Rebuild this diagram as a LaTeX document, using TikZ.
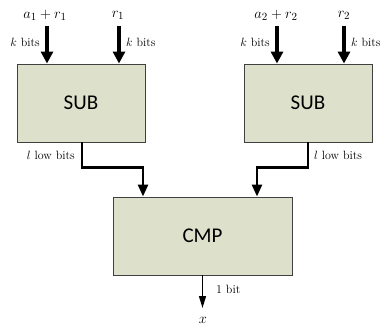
\documentclass[tikz,border=0pt]{standalone}
\usepackage{fontspec}
\newfontfamily\boxfont{Carlito}
\usetikzlibrary{arrows.meta}
\definecolor{boxfill}{RGB}{221,225,204}
\definecolor{boxline}{RGB}{64,64,64}
\tikzset{
  blk/.style={draw=boxline, line width=0.9pt, fill=boxfill, minimum height=78pt,
    font=\boxfont\fontsize{21}{24}\selectfont, inner sep=0pt},
  bigarrow/.style={line width=4pt, -{Triangle[width=12pt,length=12pt]}},
  midarrow/.style={line width=2.6pt, -{Triangle[width=10pt,length=12pt]}},
  smallarrow/.style={line width=1.4pt, -{Triangle[width=7pt,length=12pt]}},
  mlab/.style={font=\fontsize{15}{18}\selectfont, inner sep=0pt},
  tlab/.style={font=\fontsize{12}{14}\selectfont, inner sep=0pt},
}
\begin{document}
\begin{tikzpicture}[x=1pt,y=-1pt]
\useasboundingbox (0,0) rectangle (383,332);
\node[blk, minimum width=128pt] (sub1) at (81,103) {SUB};
\node[blk, minimum width=128pt] (sub2) at (308,103) {SUB};
\node[blk, minimum width=179pt] (cmp) at (202.5,236) {CMP};

\coordinate (t1) at (47,26);
\coordinate (t2) at (119,26);
\coordinate (t3) at (277,26);
\coordinate (t4) at (344,26);
\node[mlab] (l1) at (45,15) {$a_1 + r_1$};
\node[mlab] (l2) at (118,15) {$r_1$};
\node[mlab] (l3) at (276,15) {$a_2 + r_2$};
\node[mlab] (l4) at (344,15) {$r_2$};

\draw[bigarrow] (t1) -- (t1 |- sub1.north);
\draw[bigarrow] (t2) -- (t2 |- sub1.north);
\draw[bigarrow] (t3) -- (t3 |- sub2.north);
\draw[bigarrow] (t4) -- (t4 |- sub2.north);

\node[tlab, anchor=east] (k1) at (40,42) {$k$ bits};
\node[tlab, anchor=west] (k2) at (126,42) {$k$ bits};
\node[tlab, anchor=east] (k3) at (270,42) {$k$ bits};
\node[tlab, anchor=west] (k4) at (351,42) {$k$ bits};

\draw[midarrow] ([xshift=1pt]sub1.south) -- ++(0,25) -| ([xshift=-59.5pt]cmp.north);
\draw[midarrow] (sub2.south) -- ++(0,25) -| ([xshift=54.5pt]cmp.north);
\node[tlab, anchor=east] (lb1) at (75,155) {$l$ low bits};
\node[tlab, anchor=west] (lb2) at (314,155) {$l$ low bits};

\coordinate (out) at (202.5,308);
\draw[smallarrow] (cmp.south) -- (out);
\node[tlab, anchor=west] (ob) at (216,289) {1 bit};
\node[mlab] (x) at (203,320) {$x$};
\end{tikzpicture}
\end{document}
